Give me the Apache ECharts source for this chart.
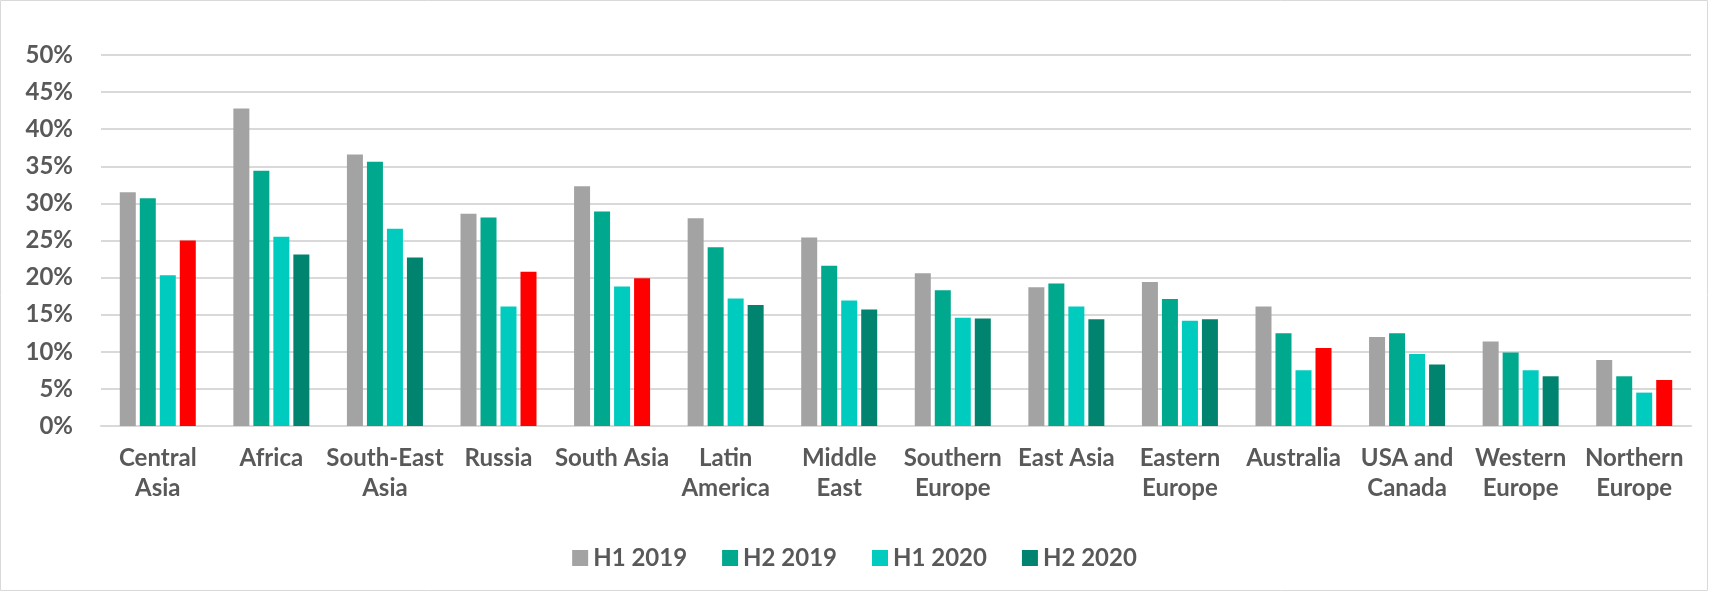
<!DOCTYPE html>
<html>
<head>
<meta charset="utf-8">
<script src="https://cdn.jsdelivr.net/npm/echarts@6/dist/echarts.min.js"></script>
<style>
  html, body { margin: 0; padding: 0; background: #ffffff; }
  #chart { width: 1709px; height: 592px; }
</style>
</head>
<body>
<div id="chart"></div>
<script>
const categories = ["Central Asia", "Africa", "South-East Asia", "Russia", "South Asia", "Latin America", "Middle East", "Southern Europe", "East Asia", "Eastern Europe", "Australia", "USA and Canada", "Western Europe", "Northern Europe"];
const xTickLabels = ["Central\nAsia", "Africa", "South-East\nAsia", "Russia", "South Asia", "Latin\nAmerica", "Middle\nEast", "Southern\nEurope", "East Asia", "Eastern\nEurope", "Australia", "USA and\nCanada", "Western\nEurope", "Northern\nEurope"];
const seriesNames = ["H1 2019", "H2 2019", "H1 2020", "H2 2020"];
const h1_2019 = [31.5, 42.8, 36.6, 28.6, 32.3, 28.0, 25.4, 20.6, 18.7, 19.4, 16.1, 12.0, 11.4, 8.9];
const h2_2019 = [30.7, 34.4, 35.6, 28.1, 28.9, 24.1, 21.6, 18.3, 19.2, 17.1, 12.5, 12.5, 9.9, 6.7];
const h1_2020 = [20.3, 25.5, 26.6, 16.1, 18.8, 17.2, 16.9, 14.6, 16.1, 14.2, 7.5, 9.7, 7.5, 4.5];
const h2_2020 = [25.0, 23.1, 22.7, 20.8, 19.9, 16.3, 15.7, 14.5, 14.4, 14.4, 10.5, 8.3, 6.7, 6.2];
const highlighted = ["Central Asia", "Russia", "South Asia", "Australia", "Northern Europe"];
const yTicks = [0, 5, 10, 15, 20, 25, 30, 35, 40, 45, 50];

const colors = ["#A3A3A3", "#00A88E", "#00CBBF", "#00836F"];
const highlightColor = "#FF0000";
const textColor = "#595959";
const fontFamily = "Lato, 'Open Sans', sans-serif";

const chart = echarts.init(document.getElementById('chart'), null, { renderer: 'canvas' });

const allSeries = [h1_2019, h2_2019, h1_2020, h2_2020];

const option = {
  animation: false,
  backgroundColor: '#ffffff',
  color: colors,
  graphic: [{
    type: 'rect',
    shape: { x: 0.5, y: 0.5, width: 1707, height: 590 },
    style: { fill: 'none', stroke: '#D9D9D9', lineWidth: 1 },
    silent: true, z: -1
  }],
  legend: {
    data: seriesNames,
    top: 541,
    left: 'center',
    icon: 'rect',
    itemWidth: 16,
    itemHeight: 16,
    itemGap: 35,
    textStyle: { fontFamily: fontFamily, fontWeight: 'bold', fontSize: 24, color: textColor }
  },
  grid: { left: 101, right: 18, top: 55, bottom: 166, containLabel: false },
  xAxis: {
    type: 'category',
    data: categories,
    axisTick: { show: false },
    axisLine: { show: true, lineStyle: { color: '#D9D9D9', width: 2 } },
    axisLabel: {
      interval: 0,
      margin: 17,
      lineHeight: 30,
      formatter: (v, i) => xTickLabels[i],
      fontFamily: fontFamily, fontWeight: 'bold', fontSize: 24, color: textColor
    }
  },
  yAxis: {
    type: 'value',
    min: yTicks[0],
    max: yTicks[yTicks.length - 1],
    interval: yTicks[1] - yTicks[0],
    axisLine: { show: false },
    axisTick: { show: false },
    splitLine: { lineStyle: { color: '#D9D9D9', width: 2 } },
    axisLabel: {
      margin: 28,
      formatter: v => v + '%',
      fontFamily: fontFamily, fontWeight: 'bold', fontSize: 24, color: textColor
    }
  },
  series: seriesNames.map((name, si) => ({
    name: name,
    type: 'bar',
    barWidth: 16,
    barGap: '25%',
    itemStyle: { color: colors[si] },
    data: allSeries[si].map((v, ci) => {
      if (si === 3 && highlighted.includes(categories[ci])) {
        return { value: v, itemStyle: { color: highlightColor } };
      }
      return v;
    })
  }))
};

chart.setOption(option);
</script>
</body>
</html>
